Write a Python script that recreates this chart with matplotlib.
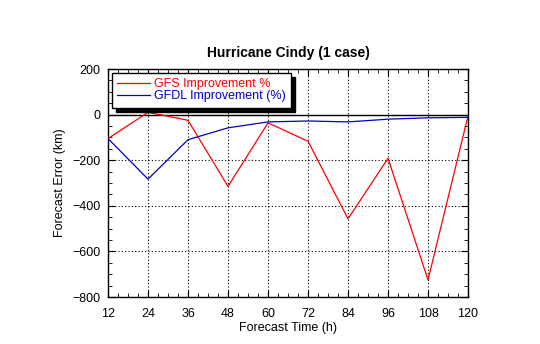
import numpy as np
import matplotlib.pyplot as plt
from matplotlib.ticker import MultipleLocator

hours = [12, 24, 36, 48, 60, 72, 84, 96, 108, 120]
gfs = [-105, 10, -25, -315, -36, -117, -457, -192, -725, -6]
gfdl = [-105, -283, -110, -58, -32, -28, -32, -20, -14, -12]

plt.rcParams["font.family"] = ["Liberation Sans", "DejaVu Sans"]


def main():
    fig = plt.figure(figsize=(5.4, 3.44), dpi=100)
    ax = fig.add_axes([0.2, 0.1366, 0.6667, 0.6628])

    ax.axhline(0, color="black", lw=1.0, zorder=1)
    ax.plot(hours, gfs, color="red", lw=0.9, label="GFS Improvement %", zorder=3)
    ax.plot(hours, gfdl, color="#0000cc", lw=0.9, label="GFDL Improvement (%)", zorder=3)

    ax.set_xlim(12, 120)
    ax.set_ylim(-800, 200)
    ax.set_xticks(hours)
    ax.set_yticks(np.arange(-800, 201, 200))
    ax.xaxis.set_minor_locator(MultipleLocator(3))
    ax.yaxis.set_minor_locator(MultipleLocator(50))
    ax.tick_params(which="both", direction="in", top=True, right=True, labelsize=9)
    ax.tick_params(which="major", length=5)
    ax.tick_params(which="minor", length=3)
    ax.tick_params(axis="x", which="major", pad=8)
    ax.tick_params(axis="y", which="major", pad=5.5)
    ax.grid(True, which="major", color="black", ls=(0, (1, 2)), lw=0.8)
    for s in ax.spines.values():
        s.set_linewidth(1.0)

    ax.set_title("Hurricane Cindy (1 case)", fontsize=10, fontweight="bold", pad=9)
    ax.set_xlabel("Forecast Time (h)", fontsize=9, labelpad=1.5)
    ax.set_ylabel("Forecast Error (km)", fontsize=9, labelpad=4.5)

    leg = ax.legend(loc="upper left", fontsize=9, frameon=True, fancybox=False,
                    shadow={"color": "black", "alpha": 1.0, "ox": 3, "oy": -3},
                    borderpad=0.45, handlelength=2.6, handletextpad=0.3,
                    labelspacing=0.0, borderaxespad=0.3)
    leg.get_frame().set_edgecolor("black")
    leg.get_frame().set_linewidth(1.0)
    for txt, c in zip(leg.get_texts(), ["red", "#0000cc"]):
        txt.set_color(c)

    fig.savefig("out.png", dpi=100)


if __name__ == "__main__":
    main()
